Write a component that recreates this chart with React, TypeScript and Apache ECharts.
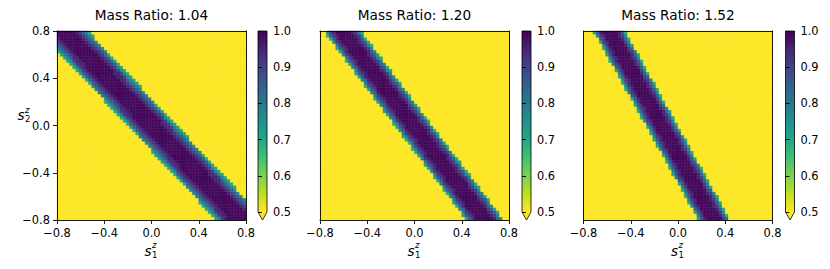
import React, { useEffect, useRef } from 'react';
import * as echarts from 'echarts';

// ---- data ----
const massRatios = ['1.04', '1.20', '1.52'];
const gridCells = 60; // cells per side of each heatmap
// horizontal position (s1) of the band centre at the top (s2 = 0.8) and bottom (s2 = -0.8)
const bandCenterTop = [-0.74, -0.61, -0.58];
const bandCenterBottom = [0.76, 0.6, 0.31];
// horizontal half-width of the band (s1 units)
const bandHalfWidth = [0.21, 0.16, 0.137];
// value across the band, by relative distance from its centre
const profileEdge = [0.45, 0.6, 0.72, 0.82, 0.91, 1.0];
const profileValue = [0.99, 0.95, 0.91, 0.85, 0.78, 0.7];
const outsideValue = 0.45;
const axisTicks = [-0.8, -0.4, 0, 0.4, 0.8];
const colorbarTicks = [0.5, 0.6, 0.7, 0.8, 0.9, 1.0];

// ---- styling ----
const viridis = ['#440154', '#482475', '#414487', '#355f8d', '#2a788e', '#21918c', '#22a884', '#44bf70', '#7ad151', '#bddf26', '#fde725'];
const FONT = 'DejaVu Sans';
const panelLeft = [57, 320, 583.5];
const panelTop = 31;
const panelSize = 189;
const cbLeft = [258, 522, 785.5];
const cbWidth = 9;
const cbHeight = 181;

function hexToRgb(h: string) {
  return [parseInt(h.slice(1, 3), 16), parseInt(h.slice(3, 5), 16), parseInt(h.slice(5, 7), 16)];
}
const viridisRgb = viridis.map(hexToRgb);
function colormap(v: number) {
  let t = (1 - v) / 0.5;
  t = Math.max(0, Math.min(1, t));
  const pos = t * (viridisRgb.length - 1);
  const i = Math.min(viridisRgb.length - 2, Math.floor(pos));
  const f = pos - i;
  const a = viridisRgb[i], b = viridisRgb[i + 1];
  const c = a.map((x, k) => Math.round(x + (b[k] - x) * f));
  return `rgb(${c[0]},${c[1]},${c[2]})`;
}

function buildCells(p: number) {
  const cells: number[][] = [];
  const step = 1.6 / gridCells;
  for (let j = 0; j < gridCells; j++) {
    const y = -0.8 + (j + 0.5) * step;
    const c = bandCenterTop[p] + ((0.8 - y) / 1.6) * (bandCenterBottom[p] - bandCenterTop[p]);
    for (let i = 0; i < gridCells; i++) {
      const x = -0.8 + (i + 0.5) * step;
      const d = Math.abs(x - c) / bandHalfWidth[p];
      let v = outsideValue;
      for (let k = 0; k < profileEdge.length; k++) {
        if (d <= profileEdge[k]) { v = profileValue[k]; break; }
      }
      cells.push([x, y, v]);
    }
  }
  return cells;
}

function fmtTick(v: number) {
  const s = Math.abs(v).toFixed(1);
  return v < -1e-9 ? '\u2212' + s : s;
}

function textEl(text: string, x: number, y: number, size: number, align: string, italic = false) {
  return {
    type: 'text',
    x, y,
    silent: true,
    style: {
      text,
      fill: '#000',
      fontSize: size,
      fontFamily: FONT,
      fontStyle: italic ? 'italic' : 'normal',
      align, textAlign: align,
      verticalAlign: 'middle', textVerticalAlign: 'middle',
    },
  };
}

export default function App() {
  const ref = useRef<HTMLDivElement>(null);
  useEffect(() => {
    if (!ref.current) return;
    const chart = echarts.init(ref.current, undefined, { renderer: 'svg' });
    const grids: any[] = [];
    const xAxes: any[] = [];
    const yAxes: any[] = [];
    const series: any[] = [];
    const graphics: any[] = [];
    const lineStyle = { color: '#000', width: 0.9 };
    const labelStyle = { color: '#000', fontSize: 11.4, fontFamily: FONT };
    const half = 0.8 / gridCells;
    const gradient = new echarts.graphic.LinearGradient(0, 0, 0, 1,
      viridis.map((c, i) => ({ offset: i / (viridis.length - 1), color: c })));

    for (let p = 0; p < 3; p++) {
      const gi = grids.length;
      grids.push({ left: panelLeft[p], top: panelTop, width: panelSize, height: panelSize, containLabel: false });
      const xb = xAxes.length;
      xAxes.push({
        gridIndex: gi, type: 'value', min: axisTicks[0], max: axisTicks[axisTicks.length - 1], interval: 0.4, position: 'bottom', z: 10,
        axisLine: { show: true, onZero: false, lineStyle },
        axisTick: { show: true, inside: false, length: 4, lineStyle },
        axisLabel: { show: true, margin: 7, formatter: fmtTick, ...labelStyle },
        splitLine: { show: false },
      });
      xAxes.push({
        gridIndex: gi, type: 'value', min: -0.8, max: 0.8, position: 'top', z: 10,
        axisLine: { show: true, onZero: false, lineStyle }, axisTick: { show: false },
        axisLabel: { show: false }, splitLine: { show: false },
      });
      const yl = yAxes.length;
      yAxes.push({
        gridIndex: gi, type: 'value', min: axisTicks[0], max: axisTicks[axisTicks.length - 1], interval: 0.4, position: 'left', z: 10,
        axisLine: { show: true, onZero: false, lineStyle },
        axisTick: { show: p === 0, inside: false, length: 4, lineStyle },
        axisLabel: { show: p === 0, margin: 7, formatter: fmtTick, ...labelStyle },
        splitLine: { show: false },
      });
      yAxes.push({
        gridIndex: gi, type: 'value', min: -0.8, max: 0.8, position: 'right', z: 10,
        axisLine: { show: true, onZero: false, lineStyle }, axisTick: { show: false },
        axisLabel: { show: false }, splitLine: { show: false },
      });
      series.push({
        type: 'custom', xAxisIndex: xb, yAxisIndex: yl, silent: true, progressive: 0,
        data: buildCells(p),
        encode: { x: 0, y: 1 },
        renderItem: (params: any, api: any) => {
          const x = api.value(0), y = api.value(1), v = api.value(2);
          const a = api.coord([x - half, y + half]);
          const b = api.coord([x + half, y - half]);
          const col = colormap(v);
          return {
            type: 'rect',
            shape: { x: a[0], y: a[1], width: b[0] - a[0], height: b[1] - a[1] },
            style: { fill: col, stroke: col, lineWidth: 0.5 },
          };
        },
      });

      // colorbar
      const ci = grids.length;
      grids.push({ left: cbLeft[p], top: panelTop, width: cbWidth, height: cbHeight, containLabel: false });
      const cx = xAxes.length;
      xAxes.push({ gridIndex: ci, type: 'value', min: 0, max: 1, show: false });
      const cy = yAxes.length;
      yAxes.push({
        gridIndex: ci, type: 'value', min: colorbarTicks[0], max: colorbarTicks[colorbarTicks.length - 1], interval: 0.1, position: 'right', z: 10,
        axisLine: { show: false },
        axisTick: { show: true, inside: false, length: 4, lineStyle },
        axisLabel: { show: true, margin: 6, formatter: (v: number) => v.toFixed(1), ...labelStyle },
        splitLine: { show: false },
      });
      series.push({
        type: 'custom', xAxisIndex: cx, yAxisIndex: cy, silent: true, clip: false,
        data: [[0, colorbarTicks[0]]],
        renderItem: (params: any, api: any) => {
          const tl = api.coord([0, colorbarTicks[colorbarTicks.length - 1]]);
          const br = api.coord([1, colorbarTicks[0]]);
          const tip = [(tl[0] + br[0]) / 2, br[1] + 8];
          return {
            type: 'group',
            children: [
              { type: 'rect', shape: { x: tl[0], y: tl[1], width: br[0] - tl[0], height: br[1] - tl[1] }, style: { fill: gradient } },
              { type: 'polygon', shape: { points: [[tl[0], br[1] - 0.5], [br[0], br[1] - 0.5], tip] }, style: { fill: '#fde725' } },
              {
                type: 'polygon',
                shape: { points: [[tl[0], tl[1]], [br[0], tl[1]], [br[0], br[1]], tip, [tl[0], br[1]]] },
                style: { fill: 'none', stroke: '#000', lineWidth: 0.8 },
              },
            ],
          };
        },
      });

      // title
      const center = panelLeft[p] + panelSize / 2;
      graphics.push(textEl('Mass Ratio: ' + massRatios[p], center, 14.5, 13.7, 'center'));
      // x label s_1^z
      graphics.push(textEl('s', center - 3.5, 251, 13.5, 'center', true));
      graphics.push(textEl('z', center + 0.5, 245.3, 8.5, 'left', true));
      graphics.push(textEl('1', center + 0.5, 254.6, 8.5, 'left'));
    }
    // y label s_2^z
    graphics.push(textEl('s', 21, 115, 13.5, 'center', true));
    graphics.push(textEl('z', 25, 109.8, 8.5, 'left', true));
    graphics.push(textEl('2', 25, 119, 8.5, 'left'));

    chart.setOption({
      animation: false,
      backgroundColor: '#fff',
      textStyle: { fontFamily: FONT },
      grid: grids,
      xAxis: xAxes,
      yAxis: yAxes,
      series,
      graphic: { elements: graphics },
    });
    return () => chart.dispose();
  }, []);
  return <div ref={ref} style={{ position: 'fixed', left: 0, top: 0, width: 830, height: 269, background: '#fff' }} />;
}
